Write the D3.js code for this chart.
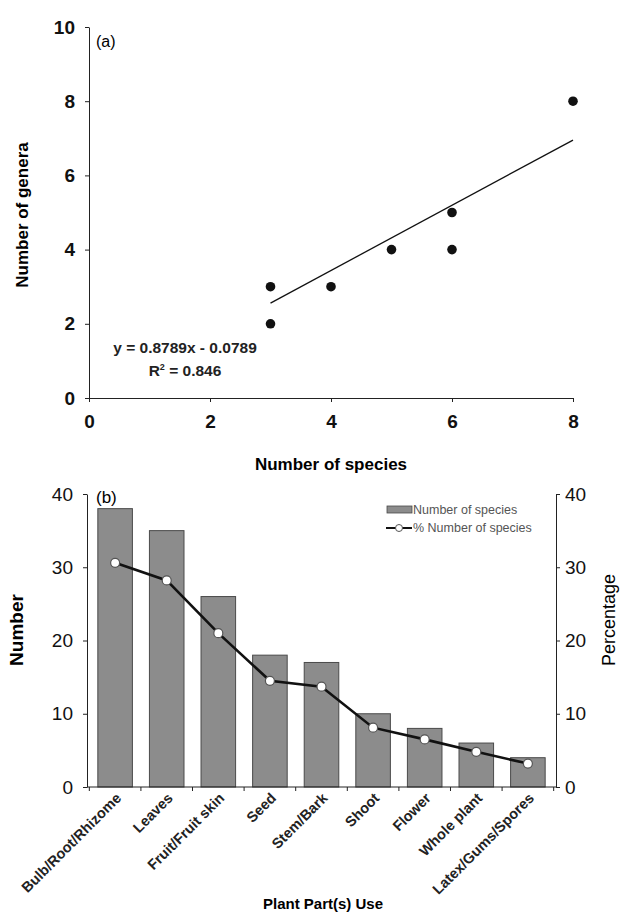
<!DOCTYPE html>
<html>
<head>
<meta charset="utf-8">
<script src="https://cdn.jsdelivr.net/npm/d3@7"></script>
<style>
body { margin: 0; background: #fff; }
svg { font-family: "Liberation Sans", Arial, sans-serif; }
</style>
</head>
<body>
<svg width="621" height="914"></svg>
<script>
// panel (a) data
var speciesCount = [3, 3, 4, 5, 6, 6, 8]
var generaCount = [3, 2, 3, 4, 5, 4, 8]
var slope = 0.8789, intercept = -0.0789
var fitRange = [3, 8]
var aXTicks = [0, 2, 4, 6, 8]
var aYTicks = [0, 2, 4, 6, 8, 10]

// panel (b) data
var parts = ['Bulb/Root/Rhizome', 'Leaves', 'Fruit/Fruit skin', 'Seed', 'Stem/Bark',
  'Shoot', 'Flower', 'Whole plant', 'Latex/Gums/Spores']
var numSpecies = [38, 35, 26, 18, 17, 10, 8, 6, 4]
var pctSpecies = [30.6, 28.2, 21.0, 14.5, 13.7, 8.1, 6.5, 4.8, 3.2]
var bTicks = [0, 10, 20, 30, 40]

var svg = d3.select('svg')

// ---------- (a) ----------
var xA = d3.scaleLinear().domain([0, 8]).range([89, 573])
var yA = d3.scaleLinear().domain([0, 10]).range([398, 27])

var gA = svg.append('g')
gA.append('g')
  .attr('transform', 'translate(0,398)')
  .call(d3.axisBottom(xA).tickValues(aXTicks).tickSize(4).tickSizeOuter(0).tickPadding(13))
gA.append('g')
  .attr('transform', 'translate(89,0)')
  .call(d3.axisLeft(yA).tickValues(aYTicks).tickSize(4).tickSizeOuter(0).tickPadding(10))
gA.selectAll('.tick text').attr('font-size', 19).attr('font-weight', 'bold').attr('fill', '#111')
  .attr('font-family', '"Liberation Sans", Arial, sans-serif')
gA.selectAll('.domain, .tick line').attr('stroke', '#222')

gA.append('line')
  .attr('x1', xA(fitRange[0])).attr('y1', yA(slope * fitRange[0] + intercept))
  .attr('x2', xA(fitRange[1])).attr('y2', yA(slope * fitRange[1] + intercept))
  .attr('stroke', '#111').attr('stroke-width', 1.3)

gA.selectAll('circle.pt')
  .data(speciesCount)
  .enter()
  .append('circle')
  .attr('cx', function(d) { return xA(d) })
  .attr('cy', function(d, i) { return yA(generaCount[i]) })
  .attr('r', 4.8)
  .attr('fill', '#111')

gA.append('text').attr('x', 96).attr('y', 47).attr('font-size', 16).text('(a)')
gA.append('text').attr('x', 185).attr('y', 353).attr('text-anchor', 'middle')
  .attr('font-size', 15.5).attr('font-weight', 'bold').attr('fill', '#222')
  .text('y = 0.8789x - 0.0789')
var r2 = gA.append('text').attr('x', 185).attr('y', 376).attr('text-anchor', 'middle')
  .attr('font-size', 15.5).attr('font-weight', 'bold').attr('fill', '#222')
r2.append('tspan').text('R')
r2.append('tspan').attr('dy', -6).attr('font-size', 9).text('2')
r2.append('tspan').attr('dy', 6).text(' = 0.846')

gA.append('text').attr('x', 331).attr('y', 470).attr('text-anchor', 'middle')
  .attr('font-size', 17).attr('font-weight', 'bold').text('Number of species')
gA.append('text').attr('transform', 'translate(28,215) rotate(-90)').attr('text-anchor', 'middle')
  .attr('font-size', 17).attr('font-weight', 'bold').text('Number of genera')

// ---------- (b) ----------
var xB = d3.scaleBand().domain(parts).range([87, 556]).paddingInner(0.33).paddingOuter(0.21)
var yB = d3.scaleLinear().domain([0, 40]).range([787, 494])
var yP = d3.scaleLinear().domain([0, 40]).range([787, 494])

var gB = svg.append('g')

gB.selectAll('rect.bar')
  .data(numSpecies)
  .enter()
  .append('rect')
  .attr('x', function(d, i) { return xB(parts[i]) })
  .attr('y', function(d) { return yB(d) })
  .attr('width', xB.bandwidth())
  .attr('height', function(d) { return 787 - yB(d) })
  .attr('fill', '#8c8c8c')
  .attr('stroke', '#4a4a4a')
  .attr('stroke-width', 1)

// x axis with ticks between categories
var step = xB.step()
gB.append('line').attr('x1', 87).attr('x2', 556).attr('y1', 787).attr('y2', 787).attr('stroke', '#222')
d3.range(parts.length + 1).forEach(function(i) {
  var x = xB(parts[0]) - step * xB.paddingInner() / 2 + i * step
  gB.append('line').attr('x1', x).attr('x2', x).attr('y1', 787).attr('y2', 791).attr('stroke', '#222')
})

var axL = gB.append('g')
  .attr('transform', 'translate(87,0)')
  .call(d3.axisLeft(yB).tickValues(bTicks).tickSize(4).tickSizeOuter(0).tickPadding(10))
var axR = gB.append('g')
  .attr('transform', 'translate(556,0)')
  .call(d3.axisRight(yP).tickValues(bTicks).tickSize(4).tickSizeOuter(0).tickPadding(5))
gB.selectAll('.tick text').attr('font-size', 19).attr('fill', '#111')
  .attr('font-family', '"Liberation Sans", Arial, sans-serif')
gB.selectAll('.domain, .tick line').attr('stroke', '#222')

var line = d3.line()
  .x(function(d, i) { return xB(parts[i]) + xB.bandwidth() / 2 })
  .y(function(d) { return yP(d) })
gB.append('path').datum(pctSpecies).attr('d', line)
  .attr('fill', 'none').attr('stroke', '#111').attr('stroke-width', 2.6)
gB.selectAll('circle.pc')
  .data(pctSpecies)
  .enter()
  .append('circle')
  .attr('cx', function(d, i) { return xB(parts[i]) + xB.bandwidth() / 2 })
  .attr('cy', function(d) { return yP(d) })
  .attr('r', 4.5)
  .attr('fill', '#fff')
  .attr('stroke', '#555')
  .attr('stroke-width', 1.2)

// category labels
gB.selectAll('text.cat')
  .data(parts)
  .enter()
  .append('text')
  .attr('transform', function(d) {
    return 'translate(' + (xB(d) + xB.bandwidth() / 2 + 7) + ',799) rotate(-45)'
  })
  .attr('text-anchor', 'end')
  .attr('font-size', 14.5)
  .attr('font-weight', 'bold')
  .attr('fill', '#222')
  .text(function(d) { return d })

gB.append('text').attr('x', 96).attr('y', 503).attr('font-size', 17).text('(b)')

// legend
gB.append('rect').attr('x', 387).attr('y', 506).attr('width', 25).attr('height', 7)
  .attr('fill', '#8c8c8c').attr('stroke', '#4a4a4a').attr('stroke-width', 0.8)
gB.append('text').attr('x', 413).attr('y', 514).attr('font-size', 12.5).attr('fill', '#555')
  .text('Number of species')
gB.append('line').attr('x1', 386).attr('x2', 412).attr('y1', 528).attr('y2', 528)
  .attr('stroke', '#111').attr('stroke-width', 2)
gB.append('circle').attr('cx', 399).attr('cy', 528).attr('r', 3.5)
  .attr('fill', '#fff').attr('stroke', '#555')
gB.append('text').attr('x', 413).attr('y', 532).attr('font-size', 12.5).attr('fill', '#555')
  .text('% Number of species')

gB.append('text').attr('transform', 'translate(23,630) rotate(-90)').attr('text-anchor', 'middle')
  .attr('font-size', 19).attr('font-weight', 'bold').text('Number')
gB.append('text').attr('transform', 'translate(615,620) rotate(-90)').attr('text-anchor', 'middle')
  .attr('font-size', 18).text('Percentage')
gB.append('text').attr('x', 323).attr('y', 909).attr('text-anchor', 'middle')
  .attr('font-size', 15).attr('font-weight', 'bold').text('Plant Part(s) Use')
</script>
</body>
</html>
